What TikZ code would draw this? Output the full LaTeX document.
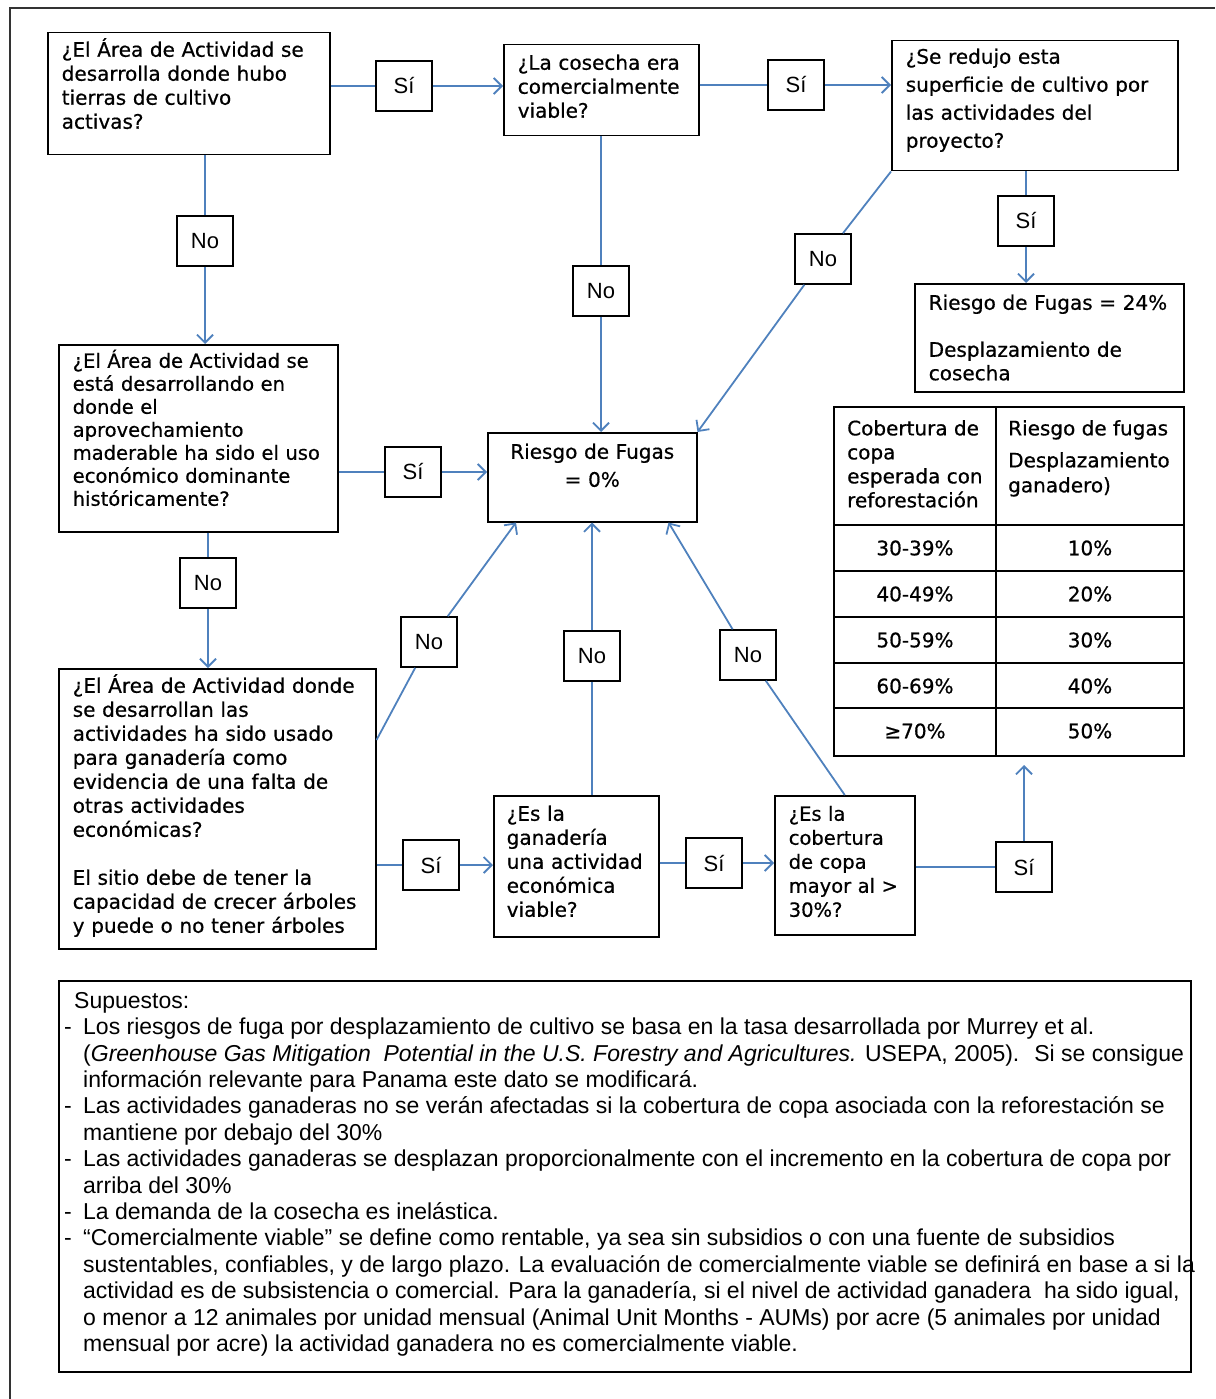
\documentclass[tikz,border=0pt]{standalone}
\usepackage{fontspec}
\setmainfont{Liberation Sans}
\newfontfamily\qfam[UprightFeatures={FakeBold=0.6}]{DejaVu Sans}
\usetikzlibrary{arrows.meta}
\definecolor{flowblue}{HTML}{4F81BD}
\newcommand{\qsize}{\qfam\fontsize{20}{24}\selectfont}
\newcommand{\qwide}{\qfam\fontsize{20}{28}\selectfont}
\newcommand{\lsize}{\fontsize{22}{26}\selectfont}
\newcommand{\nsize}{\fontsize{23}{26.4}\selectfont}
\newcommand{\bul}{\makebox[19pt][l]{-}}
\newcommand{\ind}{\hspace*{19pt}}

\begin{document}
\begin{tikzpicture}[x=1pt, y=-1pt,
		box/.style={draw, line width=1.5pt, anchor=north west, align=left, inner xsep=14pt, inner ysep=0pt},
		lbl/.style={draw, line width=1.5pt, fill=white, minimum width=56pt, minimum height=50pt, font=\lsize},
		flow/.style={draw=flowblue, line width=1.8pt},
		>={Straight Barb[length=8pt,width=16pt]}]
		\useasboundingbox (0,0) rectangle (1215,1399);
		\draw[line width=1.5pt, black!80] (10,1399) -- (10,8) -- (1215,8);
		\node[box, minimum width=282pt, minimum height=122pt, text width=254pt, text height=24pt, text depth=98pt, font=\qsize] (qA) at (47,32) {¿El Área de Actividad se\\desarrolla donde hubo\\tierras de cultivo\\activas?};
		\node[box, minimum width=195pt, minimum height=91pt, text width=167pt, text height=25pt, text depth=66pt, font=\qsize] (qB) at (503,44) {¿La cosecha era\\comercialmente\\viable?};
		\node[box, minimum width=286pt, minimum height=130pt, text width=258pt, text height=23pt, text depth=107pt, font=\qwide] (qC) at (891,40) {¿Se redujo esta\\superficie de cultivo por\\las actividades del\\proyecto?};
		\node[box, minimum width=269pt, minimum height=108pt, text width=241pt, text height=26pt, text depth=82pt, font=\qfam\fontsize{20}{23.5}\selectfont] (rD) at (914,283) {Riesgo de Fugas = 24\%\\[23.5pt]Desplazamiento de\\cosecha};
		\node[box, minimum width=279pt, minimum height=187pt, text width=251pt, text height=23pt, text depth=164pt, font=\qfam\fontsize{19.5}{23}\selectfont] (qE) at (58,344) {¿El Área de Actividad se\\está desarrollando en\\donde el\\aprovechamiento\\maderable ha sido el uso\\económico dominante\\históricamente?};
		\node[box, align=center, minimum width=209pt, minimum height=89pt, text width=181pt, text height=26pt, text depth=63pt, font=\qwide] (rF) at (487,432) {Riesgo de Fugas\\= 0\%};
		\node[box, minimum width=317pt, minimum height=280pt, text width=289pt, text height=24pt, text depth=256pt, font=\qsize] (qG) at (58,668) {¿El Área de Actividad donde\\se desarrollan las\\actividades ha sido usado\\para ganadería como\\evidencia de una falta de\\otras actividades\\económicas?\\[24pt]El sitio debe de tener la\\capacidad de crecer árboles\\y puede o no tener árboles};
		\node[box, inner xsep=13pt, minimum width=165pt, minimum height=141pt, text width=139pt, text height=25pt, text depth=116pt, font=\qsize] (qH) at (493,795) {¿Es la\\ganadería\\una actividad\\económica\\viable?};
		\node[box, minimum width=140pt, minimum height=139pt, text width=112pt, text height=25pt, text depth=114pt, font=\qfam\fontsize{19.5}{24}\selectfont] (qI) at (774,795) {¿Es la\\cobertura\\de copa\\mayor al >\\30\%?};
		\node[draw, line width=1.5pt, anchor=north west, minimum width=350pt, minimum height=349pt, inner sep=0pt] (tbl) at (833,406) {};
		\draw[line width=1.5pt] (996,406) -- (996,755);
		\foreach \y in {525,571,617,663,708}
			\draw[line width=1.5pt] (833,\y) -- (1183,\y);
		\node[anchor=north west, align=left, inner sep=0pt, font=\qsize] (hA) at (847,420) {Cobertura de\\copa\\esperada con\\reforestación};
		\node[anchor=north west, align=left, inner sep=0pt, font=\qfam\fontsize{20}{25}\selectfont] (hB) at (1008,420) {Riesgo de fugas\\[7pt]Desplazamiento\\ganadero)};
		\foreach \y/\a/\b in {548/30-39\%/10\%, 594/40-49\%/20\%, 640/50-59\%/30\%, 686/60-69\%/40\%, 731/≥70\%/50\%} {
			\node[font=\qsize] (ca\y) at (915,\y) {\a};
			\node[font=\qsize] (cb\y) at (1090,\y) {\b};
		}
		\node[lbl] (yA) at (404,86) {Sí};
		\node[lbl] (yB) at (796,85) {Sí};
		\node[lbl] (yC) at (1026,221) {Sí};
		\node[lbl] (nA) at (205,241) {No};
		\node[lbl] (nB) at (601,291) {No};
		\node[lbl] (nC) at (823,259) {No};
		\node[lbl] (yE) at (413,472) {Sí};
		\node[lbl] (nE) at (208,583) {No};
		\node[lbl] (nG) at (429,642) {No};
		\node[lbl] (yG) at (431,865) {Sí};
		\node[lbl] (nH) at (592,656) {No};
		\node[lbl] (yH) at (714,863) {Sí};
		\node[lbl] (nI) at (748,655) {No};
		\node[lbl] (yI) at (1024,867) {Sí};
		\coordinate (tip) at (1024,765);
		\draw[flow] (qA.east |- yA) -- (yA);
		\draw[flow, ->] (yA) -- (yA -| qB.west);
		\draw[flow] (qB.east |- yB) -- (yB);
		\draw[flow, ->] (yB) -- (yB -| qC.west);
		\draw[flow] (yC |- qC.south) -- (yC);
		\draw[flow, ->] (yC) -- (yC |- rD.north);
		\draw[flow] (nA |- qA.south) -- (nA);
		\draw[flow, ->] (nA) -- (nA |- qE.north);
		\draw[flow] (nB |- qB.south) -- (nB);
		\draw[flow, ->] (nB) -- (nB |- rF.north);
		\draw[flow] (qC.south west) -- (nC);
		\draw[flow, ->] (nC) -- (rF.north east);
		\draw[flow] (qE.east |- yE) -- (yE);
		\draw[flow, ->] (yE) -- (yE -| rF.west);
		\draw[flow] (nE |- qE.south) -- (nE);
		\draw[flow, ->] (nE) -- (nE |- qG.north);
		\draw[flow] (qG.north east) ++(0,72) -- (nG);
		\draw[flow, ->] (nG) -- ([xshift=29pt]rF.south west);
		\draw[flow] (qG.east |- yG) -- (yG);
		\draw[flow, ->] (yG) -- (yG -| qH.west);
		\draw[flow] (nH |- qH.north) -- (nH);
		\draw[flow, ->] (nH) -- (nH |- rF.south);
		\draw[flow] (qH.east |- yH) -- (yH);
		\draw[flow, ->] (yH) -- (yH -| qI.west);
		\draw[flow] (qI.north) -- (nI);
		\draw[flow, ->] (nI) -- ([xshift=-29pt]rF.south east);
		\draw[flow] (qI.east |- yI) -- (yI);
		\draw[flow, ->] (yI) -- (tip);
		\node[draw, line width=1.5pt, anchor=north west, minimum width=1132pt, minimum height=391pt, inner sep=0pt] (sup) at (58,980) {};
		\node[anchor=north west, align=left, inner sep=0pt, font=\nsize] (supt) at (64,992) {\hspace*{10pt}Supuestos:\\
			\bul Los riesgos de fuga por desplazamiento de cultivo se basa en la tasa desarrollada por Murrey et al.\\
			\ind (\textit{Greenhouse Gas Mitigation~ Potential in the U.S. Forestry and Agricultures.} USEPA, 2005).~ Si se consigue\\
			\ind información relevante para Panama este dato se modificará.\\
			\bul Las actividades ganaderas no se verán afectadas si la cobertura de copa asociada con la reforestación se\\
			\ind mantiene por debajo del 30\%\\
			\bul Las actividades ganaderas se desplazan proporcionalmente con el incremento en la cobertura de copa por\\
			\ind arriba del 30\%\\
			\bul La demanda de la cosecha es inelástica.\\
			\bul “Comercialmente viable” se define como rentable, ya sea sin subsidios o con una fuente de subsidios\\
			\ind sustentables, confiables, y de largo plazo. La evaluación de comercialmente viable se definirá en base a si la\\
			\ind actividad es de subsistencia o comercial. Para la ganadería, si el nivel de actividad ganadera~ ha sido igual,\\
			\ind o menor a 12 animales por unidad mensual (Animal Unit Months - AUMs) por acre (5 animales por unidad\\
			\ind mensual por acre) la actividad ganadera no es comercialmente viable.};
	\end{tikzpicture}
\end{document}
